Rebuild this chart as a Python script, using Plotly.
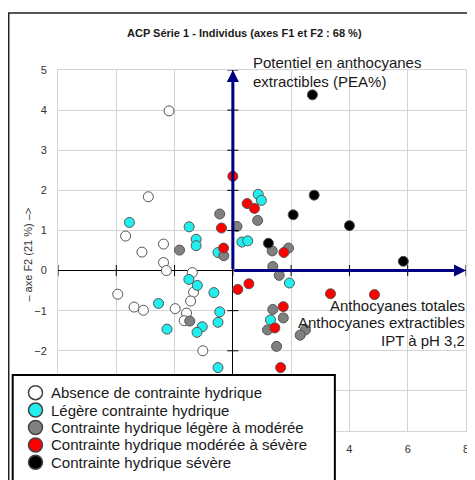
import plotly.graph_objects as go

# ---------------- data ----------------
categories = [
    "Absence de contrainte hydrique",
    "Légère contrainte hydrique",
    "Contrainte hydrique légère à modérée",
    "Contrainte hydrique modérée à sévère",
    "Contrainte hydrique sévère",
]
colors = ["#ffffff", "#22eeee", "#808080", "#ff0000", "#000000"]

absence_x = [-2.19, -2.90, -3.68, -3.12, -2.38, -2.38, -2.28, -1.39, -3.95, -1.35, -1.45, -3.39, -3.07, -1.98, -1.59, -1.67, -1.03]
absence_y = [3.98, 1.84, 0.86, 0.46, 0.66, 0.20, 0.00, -0.05, -0.59, -0.54, -0.76, -0.91, -0.99, -0.95, -1.06, -1.25, -2.00]

legere_x = [-3.55, -1.50, -1.26, -1.26, -0.51, 0.31, 0.51, 0.87, 0.98, -1.51, -1.22, -0.65, -2.55, -0.45, -0.51, -1.05, -1.23, -2.26, -0.51, 1.94, 1.29]
legere_y = [1.20, 1.09, 0.78, 0.62, 0.45, 0.71, 0.74, 1.90, 1.75, -0.22, -0.37, -0.55, -0.82, -1.03, -1.29, -1.40, -1.54, -1.46, -2.42, -0.31, -1.23]

leg_mod_x = [-0.45, 0.14, 0.85, -1.83, -0.31, 1.35, 1.91, 1.37, 1.59, -1.48, 1.37, 1.73, 1.19, 2.49, 2.31, 1.50]
leg_mod_y = [1.41, 1.10, 1.25, 0.51, 0.37, 0.49, 0.56, 0.10, -0.12, -1.26, -0.97, -1.18, -1.48, -1.48, -1.61, -1.89]

mod_sev_x = [0.00, 0.49, 0.74, -0.39, -0.32, 1.75, 0.17, 0.55, 3.35, 4.86, 1.73, 1.44, 1.64]
mod_sev_y = [2.35, 1.67, 1.55, 1.06, 0.56, 0.45, -0.47, -0.33, -0.58, -0.60, -0.90, -1.43, -2.42]

severe_x = [2.73, 2.79, 2.07, 4.00, 1.22, 5.85]
severe_y = [4.38, 1.88, 1.39, 1.12, 0.68, 0.23]

series_x = [absence_x, legere_x, leg_mod_x, mod_sev_x, severe_x]
series_y = [absence_y, legere_y, leg_mod_y, mod_sev_y, severe_y]

# variable vectors (arrows)
vector_x = [0, 8]
vector_y = [5, 0]

x_ticks = [-6, -4, -2, 0, 2, 4, 6, 8]
y_ticks = [-4, -3, -2, -1, 0, 1, 2, 3, 4, 5]

title = "ACP Série 1 - Individus (axes F1 et F2 : 68 %)"
y_title = "– axe F2 (21 %) –>"
label_top = ["Potentiel en anthocyanes", "extractibles (PEA%)"]
label_right = ["Anthocyanes totales", "Anthocyanes extractibles", "IPT à pH 3,2"]

# ---------------- layout helpers ----------------
# the page body has an 8px default margin: the figure is shrunk and
# all page-pixel positions are shifted by that offset
OFF = 8
W, H = 475 - OFF, 480 - OFF
L, R, T, B = 57.7 - OFF, 469.3 - OFF, 70.0 - OFF, 431.0 - OFF
FONT = "Liberation Sans, Arial, sans-serif"


def fx(px):
    return (px - OFF - L) / (R - L)


def fy(py):
    return (B - (py - OFF)) / (B - T)


fig = go.Figure()

for name, col, xs, ys in zip(categories, colors, series_x, series_y):
    fig.add_trace(go.Scatter(
        x=xs, y=ys, mode="markers", name=name, showlegend=False,
        marker=dict(size=10, color=col, line=dict(color="#555555", width=1)),
    ))

# tick marks on the zero lines
fig.add_trace(go.Scatter(
    x=[0] * len(y_ticks), y=y_ticks, mode="markers", showlegend=False, hoverinfo="skip",
    marker=dict(symbol="line-ew", size=8, line=dict(color="black", width=1)),
))
fig.add_trace(go.Scatter(
    x=x_ticks, y=[0] * len(x_ticks), mode="markers", showlegend=False, hoverinfo="skip",
    marker=dict(symbol="line-ns", size=8, line=dict(color="black", width=1)),
))

annotations = []
# arrows for variables
for vx, vy in zip(vector_x, vector_y):
    annotations.append(dict(
        x=vx, y=vy, ax=0, ay=0, xref="x", yref="y", axref="x", ayref="y",
        text="", showarrow=True, arrowhead=2, arrowsize=0.8, arrowwidth=3,
        arrowcolor="#000080",
    ))

# title
annotations.append(dict(
    x=fx(246), y=fy(33), xref="paper", yref="paper", showarrow=False,
    text="<b>" + title + "</b>", font=dict(family=FONT, size=11, color="#1a1a1a"),
    xanchor="center", yanchor="middle",
))
# y axis title
annotations.append(dict(
    x=fx(27), y=fy(255), xref="paper", yref="paper", showarrow=False,
    text=y_title, textangle=-90, font=dict(family=FONT, size=11, color="#333333"),
    xanchor="center", yanchor="middle",
))
# variable labels
for i, t in enumerate(label_top):
    annotations.append(dict(
        x=fx(252), y=fy(63 + 18 * i), xref="paper", yref="paper", showarrow=False,
        text=t, font=dict(family=FONT, size=15, color="#1a1a1a"),
        xanchor="left", yanchor="middle",
    ))
for i, t in enumerate(label_right):
    annotations.append(dict(
        x=fx(470), y=fy(305 + 17.6 * i), xref="paper", yref="paper", showarrow=False,
        text=t, font=dict(family=FONT, size=15, color="#1a1a1a"),
        xanchor="right", yanchor="middle",
    ))

shapes = []
# outer frame
shapes.append(dict(type="rect", xref="paper", yref="paper",
                   x0=fx(8), x1=fx(520), y0=fy(520), y1=fy(13),
                   line=dict(color="#222222", width=1.5), fillcolor="rgba(0,0,0,0)", layer="below"))
# legend box
shapes.append(dict(type="rect", xref="paper", yref="paper",
                   x0=fx(12), x1=fx(337), y0=fy(482), y1=fy(375),
                   line=dict(color="black", width=2), fillcolor="white", layer="above"))
for i, (name, col) in enumerate(zip(categories, colors)):
    cy = 392.7 + 17.4 * i
    shapes.append(dict(type="circle", xref="paper", yref="paper",
                       xsizemode="pixel", ysizemode="pixel",
                       xanchor=fx(35), yanchor=fy(cy), x0=-7, x1=7, y0=-7, y1=7,
                       line=dict(color="#444444", width=1.5), fillcolor=col, layer="above"))
    annotations.append(dict(
        x=fx(49), y=fy(cy), xref="paper", yref="paper", showarrow=False,
        text=name, font=dict(family=FONT, size=15, color="#1a1a1a"),
        xanchor="left", yanchor="middle",
    ))

axis_common = dict(
    showgrid=True, gridcolor="#d4d4d4", gridwidth=1,
    zeroline=True, zerolinecolor="black", zerolinewidth=1,
    showline=True, linecolor="#d4d4d4", linewidth=1, mirror=True,
    ticks="", tickfont=dict(family=FONT, size=11, color="#333333"),
)

fig.update_layout(
    width=W, height=H,
    margin=dict(l=L, r=W - R, t=T, b=H - B, pad=0),
    paper_bgcolor="white", plot_bgcolor="white",
    xaxis=dict(range=[-6, 8], tickvals=x_ticks, ticklabelstandoff=8, **axis_common),
    yaxis=dict(range=[-4, 5], tickvals=y_ticks, ticklabelstandoff=8, **axis_common),
    annotations=annotations, shapes=shapes, showlegend=False,
)

fig.write_html("out.html")
